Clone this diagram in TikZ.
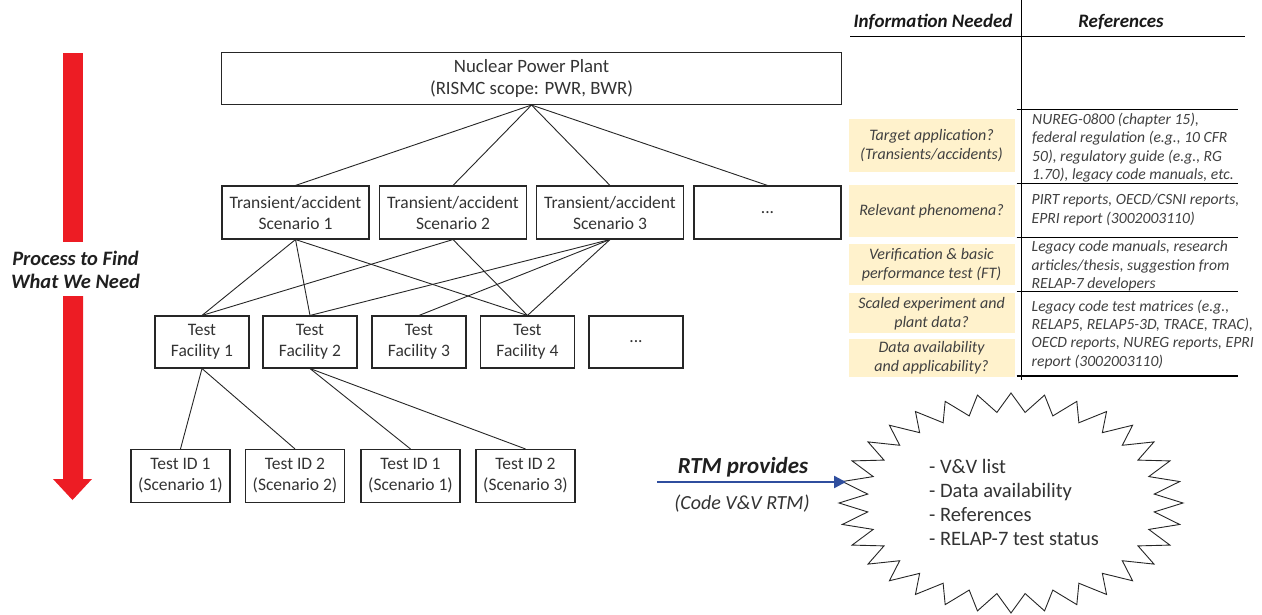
\documentclass[tikz,border=0pt]{standalone}
\usepackage{fontspec}
\setmainfont{Carlito}
\usetikzlibrary{arrows.meta}
\definecolor{boxline}{HTML}{262626}
\definecolor{txt}{HTML}{333333}
\definecolor{reftxt}{HTML}{404040}
\definecolor{yell}{HTML}{FFF2CC}
\definecolor{redarrow}{HTML}{ED1C24}
\definecolor{bluearrow}{HTML}{2F4E9E}
\begin{document}
\begin{tikzpicture}[x=1pt,y=-1pt,
  box/.style={draw=boxline,line width=1.1pt,align=center,inner sep=0pt,text=txt,
     font=\fontsize{17.5}{21}\selectfont},
  sbox/.style={box,minimum width=147pt,minimum height=53pt},
  fbox/.style={box,minimum width=94pt,minimum height=52pt},
  tbox/.style={box,minimum width=99pt,minimum height=53pt},
  link/.style={draw=boxline,line width=0.9pt},
  ybox/.style={fill=yell,minimum width=166pt,inner sep=0pt,align=center,text=reftxt,
     font=\fontsize{16}{19}\selectfont\itshape},
  reftext/.style={anchor=west,align=left,inner sep=0pt,text=reftxt,
     font=\fontsize{15.6}{18.3}\selectfont\itshape},
  tline/.style={draw=black,line width=1.1pt},
  head/.style={font=\fontsize{19}{22}\selectfont\bfseries\itshape,text=black!90,inner sep=0pt}
]
\useasboundingbox (0,0) rectangle (1262,615);

% red process arrow
\fill[redarrow] (63,53) -- (83,53) -- (83,242) -- (63,242) -- cycle;
\fill[redarrow] (63,296) -- (83,296) -- (83,479) -- (92,479) -- (72.5,500) -- (53,479) -- (63,479) -- cycle;
\node[align=center,inner sep=0pt,text=black!88,font=\fontsize{20.5}{23}\selectfont\bfseries\itshape]
  (proc) at (75.5,269.5) {Process to Find\\What We Need};

% hierarchy
\node[box,minimum width=620pt,minimum height=52pt,font=\fontsize{18.8}{21.5}\selectfont] (npp) at (531.5,78.5) {Nuclear Power Plant\\(RISMC scope: PWR, BWR)};

\node[sbox] (s1) at (295.5,212.5) {Transient/accident\\Scenario 1};
\node[sbox] (s2) at (453,212.5) {Transient/accident\\Scenario 2};
\node[sbox] (s3) at (610,212.5) {Transient/accident\\Scenario 3};
\node[sbox] (s4) at (767.5,212.5) {...};

\node[fbox] (f1) at (202,342) {Test\\Facility 1};
\node[fbox] (f2) at (310,342) {Test\\Facility 2};
\node[fbox] (f3) at (419,342) {Test\\Facility 3};
\node[fbox] (f4) at (527.5,342) {Test\\Facility 4};
\node[fbox] (f5) at (636,342) {...};

\node[tbox] (t1) at (180.5,476) {Test ID 1\\(Scenario 1)};
\node[tbox] (t2) at (295,476) {Test ID 2\\(Scenario 2)};
\node[tbox] (t3) at (410.5,476) {Test ID 1\\(Scenario 1)};
\node[tbox] (t4) at (525.5,476) {Test ID 2\\(Scenario 3)};

\foreach \s in {s1,s2,s3,s4} \draw[link] (npp.south) -- (\s.north);
\foreach \f in {f1,f2,f4} \draw[link] (s1.south) -- (\f.north);
\foreach \f in {f1,f4} \draw[link] (s2.south) -- (\f.north);
\foreach \f in {f2,f3,f4} \draw[link] (s3.south) -- (\f.north);
\foreach \t in {t1,t2} \draw[link] (f1.south) -- (\t.north);
\foreach \t in {t3,t4} \draw[link] (f2.south) -- (\t.north);

% table
\node[head] (h1) at (933,22) {Information Needed};
\node[head] (h2) at (1121,22) {References};
\draw[tline] (1021.5,0) -- (1021.5,380);
\draw[tline] (850,36.7) -- (1245,36.7);
\foreach \yy in {109.5,183.8,237.5,291.6,376} \draw[tline] (1016.5,\yy) -- (1238,\yy);

\node[ybox,minimum height=52.7pt] (y1) at (931.5,145.3) {Target application?\\(Transients/accidents)};
\node[ybox,minimum height=52pt] (y2) at (931.5,211.2) {Relevant phenomena?};
\node[ybox,minimum height=41pt] (y3) at (931.5,264.5) {Verification \& basic\\performance test (FT)};
\node[ybox,minimum height=40pt] (y4) at (931.5,313.3) {Scaled experiment and\\plant data?};
\node[ybox,minimum height=37.4pt] (y5) at (931.5,358) {Data availability\\and applicability?};

\node[reftext] (r1) at (1032,147.5) {NUREG-0800 (chapter 15),\\federal regulation (e.g., 10 CFR\\50), regulatory guide (e.g., RG\\1.70), legacy code manuals, etc.};
\node[reftext] (r2) at (1031.5,210) {PIRT reports, OECD/CSNI reports,\\EPRI report (3002003110)};
\node[reftext] (r3) at (1031.5,266) {Legacy code manuals, research\\articles/thesis, suggestion from\\RELAP-7 developers};
\node[reftext] (r4) at (1031.5,334.2) {Legacy code test matrices (e.g.,\\RELAP5, RELAP5-3D, TRACE, TRAC),\\OECD reports, NUREG reports, EPRI\\report (3002003110)};

% starburst
\begin{scope}[shift={(1011,503)}]
\draw[draw=boxline,line width=0.9pt,fill=white] (90:172 and 110)
  \foreach \i in {0,...,31} { -- ({90+\i*11.25+5.625}:144 and 91) -- ({90+(\i+1)*11.25}:172 and 110) } -- cycle;
\end{scope}
\node[anchor=west,align=left,inner sep=0pt,text=txt,font=\fontsize{20.5}{24.3}\selectfont]
  (list) at (929,502.5) {- V\&V list\\- Data availability\\- References\\- RELAP-7 test status};

% RTM arrow
\coordinate (rtmA) at (657,482);
\coordinate (rtmB) at (846,482);
\draw[bluearrow,line width=2.4pt,-{Triangle[length=12pt,width=12pt]}] (rtmA) -- (rtmB);
\node[inner sep=0pt,text=black!88,font=\fontsize{23}{26}\selectfont\bfseries\itshape] (rtm) at (743,467) {RTM provides};
\node[inner sep=0pt,text=txt,font=\fontsize{20}{23}\selectfont\itshape] (code) at (742,504) {(Code V\&V RTM)};
\end{tikzpicture}
\end{document}
